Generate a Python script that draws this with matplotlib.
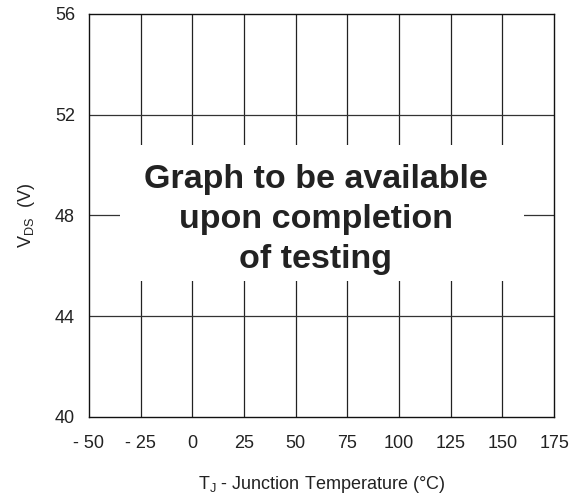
import numpy as np
from matplotlib import pyplot as plt

plt.rcParams['font.family'] = ['Liberation Sans', 'DejaVu Sans']

x_ticks = [-50, -25, 0, 25, 50, 75, 100, 125, 150, 175]
x_labels = ['- 50', '- 25', '0', '25', '50', '75', '100', '125', '150', '175']
y_ticks = [40, 44, 48, 52, 56]
y_labels = ['40', '44', '48', '52', '56']
message = 'Graph to be available\nupon completion\nof testing'

fig = plt.figure(figsize=(5.76, 4.96), dpi=100)
ax = fig.add_axes([0.1545, 0.1593, 0.8075, 0.8125])

ax.set_xlim(-50, 175)
ax.set_ylim(40, 56)
ax.set_xticks(x_ticks)
ax.set_xticklabels(x_labels)
ax.set_yticks(y_ticks)
ax.set_yticklabels(y_labels)
ax.tick_params(length=0, labelsize=13, colors='#222222')
ax.tick_params(axis='x', pad=13)
ax.tick_params(axis='y', pad=10)

for x in x_ticks[1:-1]:
    ax.axvline(x, color='#222222', lw=0.9, zorder=1)
for y in y_ticks[1:-1]:
    ax.axhline(y, color='#333333', lw=0.9, zorder=1)

for s in ax.spines.values():
    s.set_linewidth(1.0)
    s.set_color('#111111')

# white mask behind the message
ax.fill_between([-35.2, 160.2], 45.4, 50.8, color='white', lw=0, zorder=2)
ax.text(59.7, 47.85, message, ha='center', va='center', fontsize=24.5,
        fontweight='bold', color='#222222', linespacing=1.37, zorder=3)

ax.set_ylabel('V$_{\\mathregular{DS}}$  (V)', fontsize=13, labelpad=13, color='#222222')
ax.set_xlabel('T$_{\\mathregular{J}}$ - Junction Temperature (°C)', fontsize=13,
              labelpad=16, color='#222222')

plt.savefig('out.png', dpi=100)
